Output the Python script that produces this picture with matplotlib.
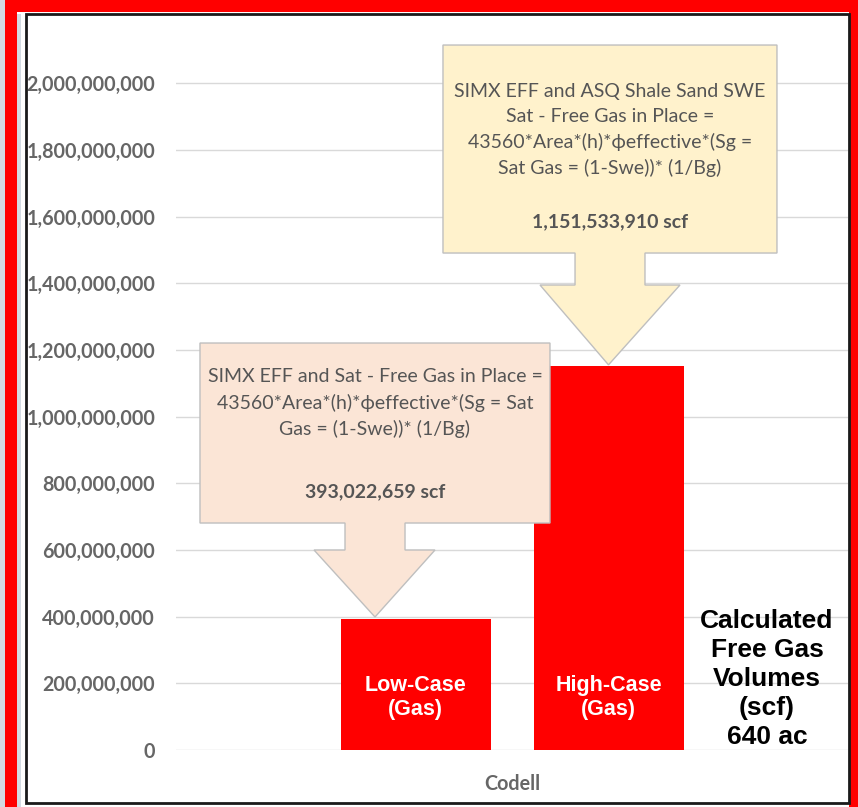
import matplotlib.pyplot as plt
from matplotlib.patches import Rectangle, Polygon

# data
category = 'Codell'
series = ['Low-Case\n(Gas)', 'High-Case\n(Gas)']
volumes = [393022659, 1151533910]
yticks = [0, 200e6, 400e6, 600e6, 800e6, 1000e6, 1200e6, 1400e6, 1600e6, 1800e6, 2000e6]

low_note = ('SIMX EFF and Sat - Free Gas in Place =\n'
            '43560*Area*(h)*\u03d5effective*(Sg = Sat\n'
            'Gas = (1-Swe))* (1/Bg)')
high_note = ('SIMX EFF and ASQ Shale Sand SWE\n'
             'Sat - Free Gas in Place =\n'
             '43560*Area*(h)*\u03d5effective*(Sg =\n'
             'Sat Gas = (1-Swe))* (1/Bg)')
side_note = 'Calculated\nFree Gas\nVolumes\n(scf)\n640 ac'

W, H = 858, 807
fig = plt.figure(figsize=(W / 100, H / 100), dpi=100)
fig.patch.set_facecolor('white')


def fr(x, y, w, h):
    # pixel box (top-left origin) -> figure fraction
    return (x / W, 1 - (y + h) / H), w / W, h / H


# frame around the chart
for (x, y, w, h), c in [((0, 0, 5, H), '#d3dae2'), ((17, 14, 4, H), '#d3dae2'),
                        ((5, 0, 12, H), '#ff0000'), ((5, 0, W - 5, 12), '#ff0000'),
                        ((849, 0, 9, H), '#ff0000')]:
    xy, ww, hh = fr(x, y, w, h)
    fig.add_artist(Rectangle(xy, ww, hh, transform=fig.transFigure, color=c, lw=0, zorder=0))
xy, ww, hh = fr(26, 14, 823, 789)
fig.add_artist(Rectangle(xy, ww, hh, transform=fig.transFigure, fill=False,
                         ec='#1a1a1a', lw=2, zorder=1))

# axes: 0 at y=750px, 2.2e9 at ~y=17px
ax = fig.add_axes([176 / W, (H - 750) / H, 672 / W, 733.3 / H])
ax.set_xlim(-0.5, 0.5)
ax.set_ylim(0, 2.2e9)
for s in ax.spines.values():
    s.set_visible(False)
ax.set_facecolor('none')

bw = 150 / 672
gap = 43 / 672
xs = [-(bw + gap) / 2, (bw + gap) / 2]
ax.bar(xs, volumes, width=bw, color='#ff0000', zorder=2)

ax.set_yticks(yticks)
ax.set_yticklabels([f'{int(v):,}' for v in yticks], fontfamily='Lato',
                   fontsize=14.2, color='#666666', fontweight='bold')
ax.tick_params(axis='y', length=0, pad=15)
ax.yaxis.grid(True, color='#d9d9d9', lw=1, zorder=0)
ax.set_axisbelow(True)
ax.set_xticks([0])
ax.set_xticklabels([category], fontfamily='Lato', fontsize=14.2,
                   color='#666666', fontweight='bold')
ax.tick_params(axis='x', length=0, pad=17)

for x, lab in zip(xs, series):
    ax.text(x, 0.1575e9, lab, ha='center', va='center', color='white',
            fontfamily='Liberation Sans', fontweight='bold', fontsize=15.5,
            linespacing=1.15, zorder=4)


def callout(left, right, top, bottom, s_l, s_r, s_b, h_l, h_r, tip_x, tip_y, fc):
    pts = [(left, top), (right, top), (right, bottom), (s_r, bottom), (s_r, s_b),
           (h_r, s_b), (tip_x, tip_y), (h_l, s_b), (s_l, s_b), (s_l, bottom),
           (left, bottom)]
    ax.add_patch(Polygon(pts, closed=True, fc=fc, ec='#bfbfbf', lw=1, zorder=3))


note_kw = dict(ha='center', va='center', fontfamily='Lato', fontsize=14,
               color='#555555', zorder=4)

# low-case callout, pointing at the low bar top
callout(-0.4643, 0.0565, 1.221e9, 0.681e9, -0.2485, -0.1592, 0.600e9,
        -0.2946, -0.1146, -0.2039, volumes[0] + 6e6, '#fbe5d6')
ax.text(-0.2039, 1.041e9, low_note, linespacing=1.55, **note_kw)
ax.text(-0.2039, 0.774e9, f'{volumes[0]:,} scf', fontweight='bold', **note_kw)

# high-case callout, pointing at the high bar top
callout(-0.1027, 0.3943, 2.115e9, 1.491e9, 0.0938, 0.1979, 1.395e9,
        0.0417, 0.25, xs[1], volumes[1] + 4e6, '#fff2cc')
ax.text(0.1458, 1.86e9, high_note, linespacing=1.55, **note_kw)
ax.text(0.1458, 1.584e9, f'{volumes[1]:,} scf', fontweight='bold', **note_kw)

fig.text(767 / W, 1 - 679 / H, side_note, ha='center', va='center',
         fontfamily='Liberation Sans', fontweight='bold', fontsize=19,
         color='black', linespacing=1.27, zorder=5)

fig.savefig('out.png', dpi=100, facecolor=fig.get_facecolor())
